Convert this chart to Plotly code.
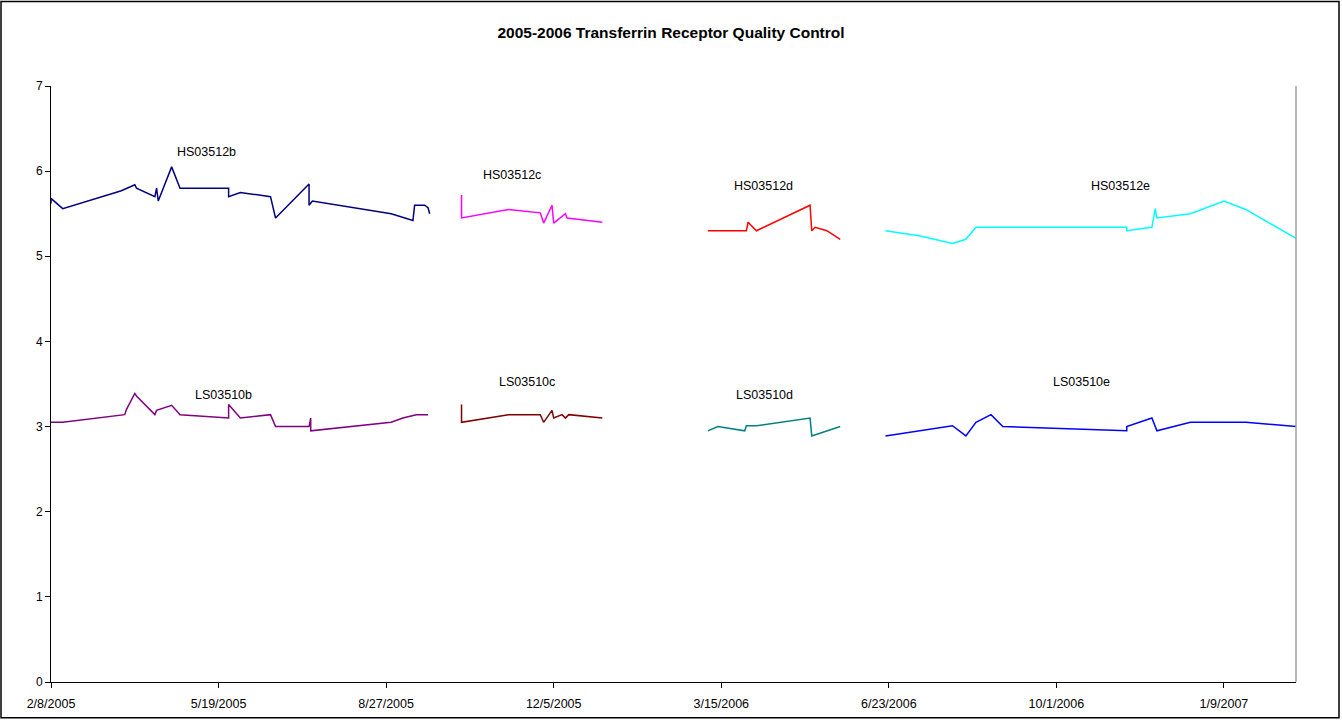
import plotly.graph_objects as go

# ---------------- data ----------------
hs_b_dates = ["2005-02-08", "2005-02-08", "2005-02-15", "2005-03-22", "2005-03-30", "2005-03-31",
              "2005-04-11", "2005-04-12", "2005-04-13", "2005-04-21", "2005-04-26", "2005-05-25",
              "2005-05-25", "2005-06-01", "2005-06-19", "2005-06-22", "2005-07-12", "2005-07-12",
              "2005-07-14", "2005-08-30", "2005-09-12", "2005-09-13", "2005-09-19", "2005-09-21",
              "2005-09-22"]
hs_b_values = [5.62, 5.68, 5.56, 5.77, 5.84, 5.80, 5.70, 5.80, 5.65, 6.05, 5.80, 5.80,
               5.70, 5.75, 5.70, 5.45, 5.85, 5.60, 5.65, 5.50, 5.42, 5.60, 5.60, 5.57, 5.50]

hs_c_dates = ["2005-10-11", "2005-10-11", "2005-11-08", "2005-11-27", "2005-11-29", "2005-12-04",
              "2005-12-05", "2005-12-10", "2005-12-12", "2005-12-13", "2006-01-03"]
hs_c_values = [5.72, 5.45, 5.55, 5.51, 5.39, 5.60, 5.39, 5.47, 5.50, 5.45, 5.40]

hs_d_dates = ["2006-03-07", "2006-03-30", "2006-03-31", "2006-04-05", "2006-05-07", "2006-05-08",
              "2006-05-10", "2006-05-17", "2006-05-25"]
hs_d_values = [5.30, 5.30, 5.40, 5.30, 5.60, 5.30, 5.34, 5.30, 5.20]

hs_e_dates = ["2006-06-21", "2006-07-11", "2006-07-31", "2006-08-08", "2006-08-14", "2006-11-12",
              "2006-11-12", "2006-11-27", "2006-11-29", "2006-11-30", "2006-12-20", "2007-01-09",
              "2007-01-22", "2007-02-21"]
hs_e_values = [5.30, 5.24, 5.15, 5.20, 5.34, 5.34, 5.30, 5.34, 5.56, 5.45, 5.50, 5.65, 5.55, 5.21]

ls_b_dates = ["2005-02-08", "2005-02-15", "2005-03-24", "2005-03-25", "2005-03-30", "2005-03-31",
              "2005-04-11", "2005-04-12", "2005-04-21", "2005-04-26", "2005-05-25", "2005-05-25",
              "2005-06-01", "2005-06-19", "2005-06-22", "2005-07-12", "2005-07-13", "2005-07-13",
              "2005-08-30", "2005-09-06", "2005-09-14", "2005-09-21"]
ls_b_values = [3.05, 3.05, 3.14, 3.20, 3.39, 3.36, 3.14, 3.19, 3.25, 3.14, 3.10, 3.26,
               3.10, 3.14, 3.00, 3.00, 3.10, 2.95, 3.05, 3.10, 3.14, 3.14]

ls_c_dates = ["2005-10-11", "2005-10-11", "2005-11-08", "2005-11-27", "2005-11-29", "2005-12-04",
              "2005-12-05", "2005-12-10", "2005-12-12", "2005-12-14", "2006-01-03"]
ls_c_values = [3.26, 3.05, 3.14, 3.14, 3.05, 3.19, 3.10, 3.14, 3.10, 3.14, 3.10]

ls_d_dates = ["2006-03-07", "2006-03-13", "2006-03-29", "2006-03-30", "2006-04-05", "2006-05-07",
              "2006-05-08", "2006-05-25"]
ls_d_values = [2.95, 3.00, 2.95, 3.01, 3.01, 3.10, 2.89, 3.00]

ls_e_dates = ["2006-06-21", "2006-07-11", "2006-07-31", "2006-08-08", "2006-08-14", "2006-08-23",
              "2006-08-30", "2006-11-12", "2006-11-12", "2006-11-27", "2006-11-30", "2006-12-20",
              "2007-01-22", "2007-02-21"]
ls_e_values = [2.89, 2.95, 3.01, 2.89, 3.05, 3.14, 3.00, 2.95, 3.00, 3.10, 2.95, 3.05, 3.05, 3.00]

series_names = ["HS03512b", "HS03512c", "HS03512d", "HS03512e",
                "LS03510b", "LS03510c", "LS03510d", "LS03510e"]

# label anchor positions (date, value)
label_dates = ["2005-05-12", "2005-11-10", "2006-04-09", "2006-11-08",
               "2005-05-22", "2005-11-19", "2006-04-10", "2006-10-16"]
label_values = [6.22, 5.96, 5.83, 5.83, 3.37, 3.52, 3.37, 3.52]

title_text = "2005-2006 Transferrin Receptor Quality Control"
y_ticks = [0, 1, 2, 3, 4, 5, 6, 7]

# ---------------- styles ----------------
colors = ["#000080", "#FF00FF", "#FF0000", "#00FFFF",
          "#800080", "#800000", "#008080", "#0000FF"]

all_dates = [hs_b_dates, hs_c_dates, hs_d_dates, hs_e_dates,
             ls_b_dates, ls_c_dates, ls_d_dates, ls_e_dates]
all_values = [hs_b_values, hs_c_values, hs_d_values, hs_e_values,
              ls_b_values, ls_c_values, ls_d_values, ls_e_values]

FONT = "Liberation Sans, Arial, sans-serif"

fig = go.Figure()
for name, d, v, c in zip(series_names, all_dates, all_values, colors):
    fig.add_trace(go.Scatter(x=d, y=v, mode="lines", name=name,
                             line=dict(color=c, width=1.5), hoverinfo="x+y+name"))

for name, d, v in zip(series_names, label_dates, label_values):
    fig.add_annotation(x=d, y=v, text=name, showarrow=False,
                       font=dict(family=FONT, size=12.5, color="#000000"),
                       xanchor="center", yanchor="middle")

L, R, T, B = 51, 46, 86, 38
W, H = 1342, 723
pw, ph = W - L - R, H - T - B

# outer chart border
fig.add_shape(type="rect", xref="paper", yref="paper",
              x0=(1 - L) / pw, x1=(W - 3 - L) / pw,
              y0=(T + ph - (H - 2)) / ph, y1=(T + ph - 1) / ph,
              line=dict(color="#000000", width=1.5), fillcolor="rgba(0,0,0,0)", layer="below")
# plot area right edge (grey)
fig.add_shape(type="line", xref="paper", yref="paper", x0=1, x1=1, y0=0, y1=1,
              line=dict(color="#A0A0A0", width=1.5))

fig.update_layout(
    width=W, height=H,
    margin=dict(l=L, r=R, t=T, b=B),
    paper_bgcolor="white", plot_bgcolor="white",
    showlegend=False,
    font=dict(family=FONT, size=12, color="#000000"),
    title=dict(text="<b>" + title_text + "</b>", x=0.5, xanchor="center",
               y=1 - 33 / H, yanchor="middle",
               font=dict(family=FONT, size=15.5, color="#000000")),
)

fig.update_xaxes(
    type="date",
    range=["2005-02-08", "2007-02-21"],
    tick0="2005-02-08", dtick=100 * 86400000,
    tickformat="%-m/%-d/%Y",
    showgrid=False, zeroline=False,
    showline=True, linecolor="#000000", linewidth=1,
    ticks="outside", ticklen=5, tickcolor="#000000",
    ticklabelstandoff=5,
    tickfont=dict(family=FONT, size=12.5),
)
fig.update_yaxes(
    range=[0, 7], tickvals=y_ticks,
    showgrid=False, zeroline=False,
    showline=True, linecolor="#000000", linewidth=1,
    ticks="outside", ticklen=5, tickcolor="#000000",
    tickfont=dict(family=FONT, size=12),
)

fig.write_html("out.html",
               config={"displayModeBar": False},
               post_script="document.body.style.margin='0';document.body.style.overflow='hidden';")
